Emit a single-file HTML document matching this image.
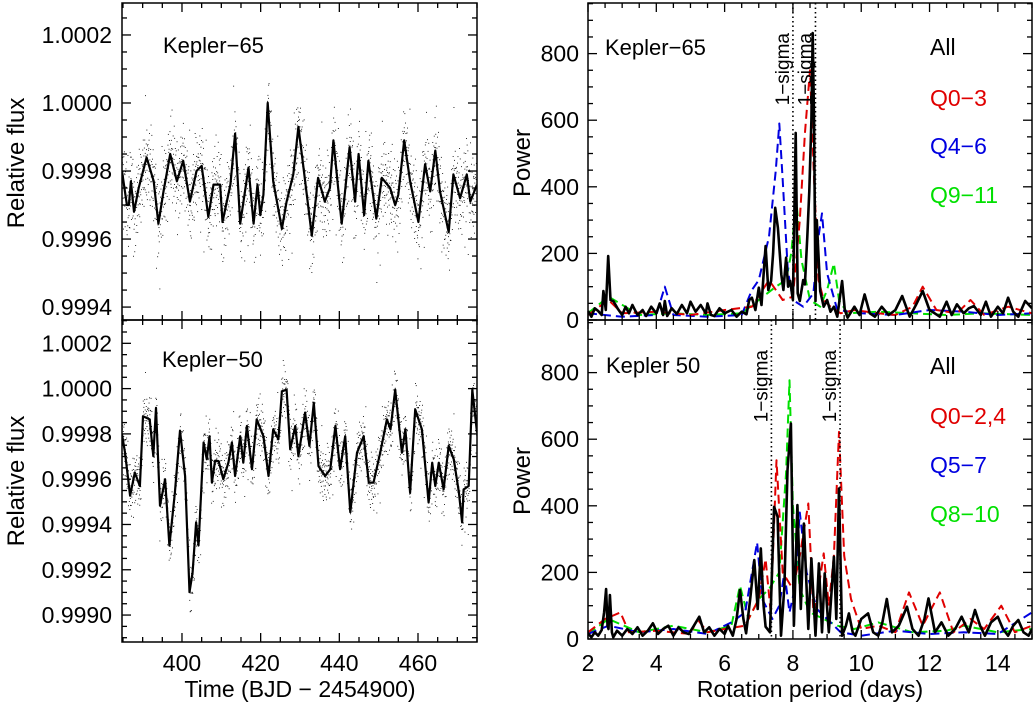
<!DOCTYPE html>
<html><head><meta charset="utf-8"><style>
html,body{margin:0;padding:0;background:#fff;}
svg{display:block;font-family:"Liberation Sans",sans-serif;}
</style></head><body>
<svg id="fig" width="1033" height="702" viewBox="0 0 1033 702" xmlns="http://www.w3.org/2000/svg"></svg>
<script>
// ---------- DATA ----------
const k65Days=[384.75,386,386.5,387,387.8,389,391,392.8,394,395.3,397,398.7,400.3,402,403.7,405,406.7,408,409.7,410.3,412.3,413.5,414.8,416.9,418.2,419.2,419.9,420.7,421.8,423.2,425.4,426.6,428.3,429.6,431,433,434.6,436.3,437.6,438.5,440.6,442.6,444,444.9,446.3,447.4,449.4,450.8,452.9,454.2,455,456.5,458,460.1,461.8,463.1,464.4,465.6,467.8,469,470.7,472.4,473.3,475];
const k65Ppm=[-200,-300,-300,-230,-320,-250,-160,-230,-355,-260,-150,-230,-170,-290,-200,-185,-335,-240,-240,-350,-240,-90,-355,-190,-355,-240,-330,-270,0,-230,-370,-290,-210,-70,-200,-390,-220,-290,-250,-110,-355,-130,-290,-150,-330,-170,-340,-220,-250,-300,-270,-110,-230,-350,-180,-260,-140,-260,-380,-210,-280,-210,-290,-240];
const k50Days=[384.75,385.5,386.8,388,389.3,390.1,391.8,392.7,393.4,394.4,395.7,396.8,398.2,399.5,400.8,401.9,402.7,403.6,404.2,405.5,406.3,407,407.6,408.4,409.3,410.5,411.8,412.7,413.5,414.8,415.6,416.5,417.8,419,420.7,422,423.2,424.5,425.4,426.6,427.5,428.8,429.6,431.3,432.4,433.5,434.7,436.4,437.7,439,440.2,441.5,442.8,444.5,446.2,447.5,448.7,450.4,452.1,453,454.2,455.9,456.8,458,459.3,461,462.7,463.6,464.4,465.3,466.5,467.8,469.1,470.4,471.2,471.6,472.9,473.8,475];
const k50Ppm=[-202,-282,-473,-371,-430,-122,-136,-298,-85,-517,-400,-693,-459,-186,-386,-899,-811,-591,-693,-238,-312,-210,-415,-320,-320,-400,-327,-238,-386,-210,-327,-165,-356,-136,-210,-386,-180,-224,-12,-5,-268,-165,-298,-106,-253,-62,-342,-386,-356,-165,-356,-210,-546,-283,-210,-415,-415,-283,-136,-180,-5,-283,-180,-459,-92,-180,-503,-327,-430,-327,-445,-253,-312,-459,-591,-445,-430,-5,-194];
const jitter=[12,-25,40,-8,-55,30,5,-70,22,60,-15,-35,80,-5,18,-45,35,-90,10,50,-28,0,65,-12,-60,28,-20,95,-40,15,-75,42,-10,25,-50,70,-30,8,-100,33];
// periodogram Kepler-65 (top right)
const p65Per=[2.0,2.1,2.2,2.3,2.4,2.45,2.52,2.59,2.66,2.74,2.88,3.0,3.1,3.2,3.3,3.45,3.6,3.7,3.85,4.0,4.1,4.2,4.25,4.32,4.45,4.6,4.75,4.9,5.0,5.15,5.3,5.45,5.5,5.6,5.7,5.85,6.0,6.2,6.35,6.5,6.64,6.72,6.8,6.9,7.0,7.08,7.15,7.2,7.28,7.36,7.42,7.48,7.56,7.66,7.72,7.8,7.86,7.92,8.0,8.08,8.14,8.2,8.3,8.35,8.42,8.48,8.54,8.58,8.62,8.66,8.7,8.8,8.9,9.0,9.1,9.2,9.3,9.44,9.52,9.6,9.8,9.95,10.1,10.25,10.4,10.6,10.8,11.0,11.2,11.42,11.6,11.8,12.0,12.15,12.3,12.5,12.65,12.8,13.0,13.15,13.3,13.5,13.65,13.8,14.0,14.15,14.3,14.45,14.6,14.8,15.0];
const p65All=[27,10,35,27,15,87,30,192,60,57,32,15,40,20,45,15,30,12,40,20,50,15,57,12,35,18,45,20,55,25,45,20,50,15,12,35,20,30,10,25,17,60,67,30,97,45,150,222,90,117,200,337,277,137,90,187,100,117,60,562,80,57,120,107,250,387,600,862,590,57,300,87,40,60,25,40,10,117,30,7,40,15,77,20,10,40,15,30,72,10,45,87,30,20,10,55,15,47,20,35,42,15,55,10,40,20,67,25,10,57,35];
const p65Red=[2.0,2.6,3.0,4.0,5.0,6.0,6.8,7.3,7.7,8.0,8.2,8.35,8.5,8.62,8.75,8.9,9.1,9.4,9.8,10.5,11.0,11.5,11.8,12.2,12.8,13.2,13.6,14.3,15.0];
const p65RedV=[15,60,20,25,15,30,40,120,60,70,300,560,750,420,120,60,40,20,30,20,15,40,100,30,20,60,15,40,20];
const p65Blue=[2.0,3.0,4.0,4.25,4.5,5.5,6.5,6.8,7.0,7.3,7.5,7.6,7.7,7.85,8.0,8.3,8.6,8.75,8.85,9.0,9.3,10.0,11.0,12.0,13.0,14.0,15.0];
const p65BlueV=[20,10,15,100,15,10,15,90,120,250,450,590,420,150,60,40,80,250,320,140,30,20,15,30,25,15,20];
const p65Green=[2.0,2.6,3.5,4.5,5.5,6.5,7.0,7.5,7.8,7.95,8.1,8.25,8.5,8.8,9.0,9.2,9.35,9.6,10.5,11.5,12.5,13.5,15.0];
const p65GreenV=[20,70,15,20,15,20,60,100,120,200,360,180,60,40,90,170,60,20,25,20,15,20,15];
// periodogram Kepler-50 (bottom right)
const p50Per=[2.0,2.1,2.2,2.3,2.4,2.47,2.53,2.57,2.6,2.64,2.7,2.74,2.85,3.0,3.15,3.3,3.45,3.6,3.75,3.9,4.05,4.2,4.35,4.5,4.65,4.8,4.95,5.1,5.26,5.4,5.55,5.7,5.85,6.0,6.1,6.24,6.35,6.45,6.55,6.63,6.75,6.87,6.97,7.06,7.14,7.2,7.33,7.45,7.55,7.65,7.75,7.84,7.94,8.03,8.13,8.23,8.32,8.45,8.54,8.66,8.76,8.85,8.93,9.05,9.2,9.27,9.35,9.44,9.55,9.64,9.75,9.83,10.0,10.2,10.35,10.5,10.62,10.75,10.9,11.1,11.34,11.5,11.68,11.85,11.97,12.16,12.35,12.55,12.75,12.94,13.15,13.33,13.48,13.62,13.8,14.0,14.15,14.3,14.45,14.6,14.75,14.9,15.0];
const p50All=[17,5,20,10,27,80,150,40,30,132,20,5,25,10,30,15,35,10,25,47,15,30,40,10,35,20,15,40,67,20,35,10,30,15,40,10,60,147,60,17,120,237,90,272,100,37,20,397,367,10,157,507,647,40,402,90,347,30,242,10,227,20,197,20,247,60,452,10,40,77,20,10,60,77,20,10,50,120,20,40,97,30,10,60,122,20,50,10,30,67,20,87,40,10,50,67,30,10,40,57,20,10,30];
const p50Red=[2.0,2.5,2.95,3.2,4.0,5.0,5.2,5.5,6.0,6.6,7.0,7.2,7.35,7.52,7.7,8.0,8.2,8.45,8.6,8.75,8.9,9.05,9.2,9.35,9.5,9.7,10.0,10.5,11.0,11.4,11.8,12.3,12.7,13.2,13.6,14.1,14.5,15.0];
const p50RedV=[20,60,80,20,25,15,60,20,30,40,120,240,80,537,200,150,250,407,80,150,257,100,250,622,250,120,30,40,20,140,40,140,20,60,30,100,20,40];
const p50Blue=[2.0,2.6,3.5,4.5,5.5,6.2,6.6,6.95,7.1,7.4,7.6,7.75,7.9,8.05,8.2,8.4,8.7,9.0,9.4,10.0,11.0,12.0,13.0,14.0,15.0];
const p50BlueV=[15,40,20,30,15,50,80,290,120,60,100,200,80,150,380,200,90,60,20,10,25,15,20,15,80];
const p50Green=[2.0,2.6,3.5,4.5,5.5,6.2,6.45,6.7,7.0,7.3,7.6,7.8,7.9,8.0,8.2,8.5,8.9,9.3,9.8,10.5,11.5,12.5,13.0,14.0,15.0];
const p50GreenV=[15,60,20,40,20,40,160,60,120,150,200,500,777,400,150,80,60,40,30,50,20,25,40,20,30];

// ---------- DRAW ----------
const NS='http://www.w3.org/2000/svg';
const svg=document.getElementById('fig');
function mk(tag,attrs,parent){const e=document.createElementNS(NS,tag);for(const k in attrs)e.setAttribute(k,attrs[k]);(parent||svg).appendChild(e);return e;}
function txt(s,x,y,attrs,parent){const e=mk('text',Object.assign({x:x,y:y,'font-size':23,fill:'#000'},attrs||{}),parent);e.textContent=s;return e;}
function lin(a,b,c,d){return v=>c+(v-a)*(d-c)/(b-a);}

function panel(name,x0,x1,y0,y1,xmin,xmax,ymin,ymax,xMaj,xMin,yMaj,yMin){
  const g=mk('g',{});
  
  
  const sx=lin(xmin,xmax,x0,x1), sy=lin(ymin,ymax,y1,y0);
  const clip=mk('clipPath',{id:'c'+name},g);mk('rect',{x:x0,y:y0,width:x1-x0,height:y1-y0},clip);
  const data=mk('g',{'clip-path':'url(#c'+name+')'},g);
  return {g,sx,sy,data,x0,x1,y0,y1,xmin,xmax,ymin,ymax,xMaj,xMin,yMaj,yMin};
}
function frame(P){
  const {g,sx,sy,x0,x1,y0,y1}=P;
  mk('rect',{x:x0,y:y0,width:x1-x0,height:y1-y0,fill:'none',stroke:'#000','stroke-width':1.5},g);
  const eps=1e-9;
  for(let v=Math.ceil(P.xmin/P.xMin)*P.xMin;v<=P.xmax+eps;v+=P.xMin){const maj=Math.abs(v/P.xMaj-Math.round(v/P.xMaj))<1e-6;const L=maj?9:5;const X=sx(v);
    mk('line',{x1:X,x2:X,y1:y1,y2:y1-L,stroke:'#000','stroke-width':1.3},g);mk('line',{x1:X,x2:X,y1:y0,y2:y0+L,stroke:'#000','stroke-width':1.3},g);}
  for(let v=Math.ceil(P.ymin/P.yMin)*P.yMin;v<=P.ymax+eps;v+=P.yMin){const maj=Math.abs(v/P.yMaj-Math.round(v/P.yMaj))<1e-6;const L=maj?9:5;const Y=sy(v);
    mk('line',{x1:x0,x2:x0+L,y1:Y,y2:Y,stroke:'#000','stroke-width':1.3},g);mk('line',{x1:x1,x2:x1-L,y1:Y,y2:Y,stroke:'#000','stroke-width':1.3},g);}
}
function path(P,xs,ys,attrs,name){
  const d=xs.map((x,i)=>(i?'L':'M')+P.sx(x).toFixed(1)+','+P.sy(ys[i]).toFixed(1)).join('');
  const e=mk('path',Object.assign({d:d,fill:'none','stroke-linejoin':'round'},attrs),P.data);
  
  
  return e;
}
function interp(xs,ys,x){for(let i=1;i<xs.length;i++){if(x<=xs[i]){const t=(x-xs[i-1])/(xs[i]-xs[i-1]);return ys[i-1]+t*(ys[i]-ys[i-1]);}}return ys[ys.length-1];}
function dots(P,xs,ys,name){
  const g=mk('g',{fill:'#000'},P.data);
  
  
  let k=0;
  for(let x=xs[0];x<=xs[xs.length-1];x+=0.04){const j=jitter[k%jitter.length]*(1.2+(k%7===0?0.9:0));k++;
    const y=interp(xs,ys,x)+j;mk('rect',{x:P.sx(x).toFixed(1),y:P.sy(y).toFixed(1),width:0.9,height:0.9},g);}
}

const LT=panel('kepler65-lightcurve',122,477,3,320,384.75,475,-638,294,20,5,200,50);
dots(LT,k65Days,k65Ppm,'kepler65-flux-points');
path(LT,k65Days,k65Ppm,{stroke:'#000','stroke-width':2.2},'kepler65-smoothed-line');
frame(LT);
const LB=panel('kepler50-lightcurve',122,477,320,642,384.75,475,-1119,303,20,5,200,50);
dots(LB,k50Days,k50Ppm,'kepler50-flux-points');
path(LB,k50Days,k50Ppm,{stroke:'#000','stroke-width':2.2},'kepler50-smoothed-line');
frame(LB);
[[LT,[200,0,-200,-400,-600],['1.0002','1.0000','0.9998','0.9996','0.9994']],[LB,[200,0,-200,-400,-600,-800,-1000],['1.0002','1.0000','0.9998','0.9996','0.9994','0.9992','0.9990']]].forEach(([P,vals,labs])=>{
  vals.forEach((v,i)=>{const t=txt(labs[i],112,P.sy(v)+8,{'text-anchor':'end'});});
});
[400,420,440,460].forEach(v=>{const t=txt(String(v),LB.sx(v),671,{'text-anchor':'middle'});});

const RT=panel('kepler65-periodogram',588,1032,3,320,2,15,0,952,2,0.5,200,50);
path(RT,p65Green,p65GreenV,{stroke:'#00e000','stroke-width':2,'stroke-dasharray':'9,5'},'q9-11-series');
path(RT,p65Blue,p65BlueV,{stroke:'#0000e0','stroke-width':2,'stroke-dasharray':'9,5'},'q4-6-series');
path(RT,p65Red,p65RedV,{stroke:'#e00000','stroke-width':2,'stroke-dasharray':'9,5'},'q0-3-series');
path(RT,p65Per,p65All,{stroke:'#000','stroke-width':2.6},'all-series');
const RB=panel('kepler50-periodogram',588,1032,320,639,2,15,0,958,2,0.5,200,50);
path(RB,p50Green,p50GreenV,{stroke:'#00e000','stroke-width':2,'stroke-dasharray':'9,5'},'q8-10-series');
path(RB,p50Blue,p50BlueV,{stroke:'#0000e0','stroke-width':2,'stroke-dasharray':'9,5'},'q5-7-series');
path(RB,p50Red,p50RedV,{stroke:'#e00000','stroke-width':2,'stroke-dasharray':'9,5'},'q0-2-4-series');
path(RB,p50Per,p50All,{stroke:'#000','stroke-width':2.6},'all-series');
[[RT,8.0],[RT,8.66],[RB,7.37],[RB,9.38]].forEach(([P,v])=>{const X=P.sx(v);const l=mk('line',{x1:X,x2:X,y1:P.y0,y2:P.y1,stroke:'#000','stroke-width':1.6,'stroke-dasharray':'1.5,3'},P.g);
  const t=txt('1\u2212sigma',0,0,{'font-size':19,'text-anchor':'end',transform:'translate('+(X-4)+','+(P.y0+30)+') rotate(-90)'},P.g);});
frame(RT);frame(RB);
[[RT,[0,200,400,600,800]],[RB,[0,200,400,600,800]]].forEach(([P,vals])=>{vals.forEach(v=>{const t=txt(String(v),579,P.sy(v)+8,{'text-anchor':'end'});});});
[2,4,6,8,10,12,14].forEach(v=>{const t=txt(String(v),RB.sx(v),671,{'text-anchor':'middle'});});
</script>
<script>
(function(){
const svg=document.getElementById('fig');const NS='http://www.w3.org/2000/svg';
function T(s,x,y,a,name){const e=document.createElementNS(NS,'text');e.setAttribute('x',x);e.setAttribute('y',y);e.setAttribute('font-size',a.fs||22);e.setAttribute('fill',a.fill||'#000');if(a.anchor)e.setAttribute('text-anchor',a.anchor);if(a.tr)e.setAttribute('transform',a.tr);e.textContent=s;


svg.appendChild(e);}
T('Kepler\u221265',163,53,{},'panel-label-kepler65');
T('Kepler\u221250',162,367,{},'panel-label-kepler50');
T('Relative flux',0,0,{fs:24,anchor:'middle',tr:'translate(24,163) rotate(-90)'},'y-axis-title');
T('Relative flux',0,0,{fs:24,anchor:'middle',tr:'translate(24,481) rotate(-90)'},'y-axis-title');
T('Time (BJD \u2212 2454900)',300,697,{fs:23,anchor:'middle'},'x-axis-title');
T('Power',0,0,{fs:24,anchor:'middle',tr:'translate(530,163) rotate(-90)'},'y-axis-title');
T('Power',0,0,{fs:24,anchor:'middle',tr:'translate(530,481) rotate(-90)'},'y-axis-title');
T('Rotation period (days)',810,697,{fs:23,anchor:'middle'},'x-axis-title');
T('Kepler\u221265',605,55,{},'panel-label-kepler65');
T('Kepler 50',606,373,{},'panel-label-kepler50');
T('All',930,55,{fs:23},'legend-all');
T('Q0\u22123',930,106,{fill:'#e00000',fs:23},'legend-q0-3');
T('Q4\u22126',930,154,{fill:'#0000e0',fs:23},'legend-q4-6');
T('Q9\u221211',930,203,{fill:'#00e000',fs:23},'legend-q9-11');
T('All',930,374,{fs:23},'legend-all');
T('Q0\u22122,4',930,424,{fill:'#e00000',fs:23},'legend-q0-2-4');
T('Q5\u22127',930,473,{fill:'#0000e0',fs:23},'legend-q5-7');
T('Q8\u221210',930,522,{fill:'#00e000',fs:23},'legend-q8-10');
})();
</script>
</body></html>
